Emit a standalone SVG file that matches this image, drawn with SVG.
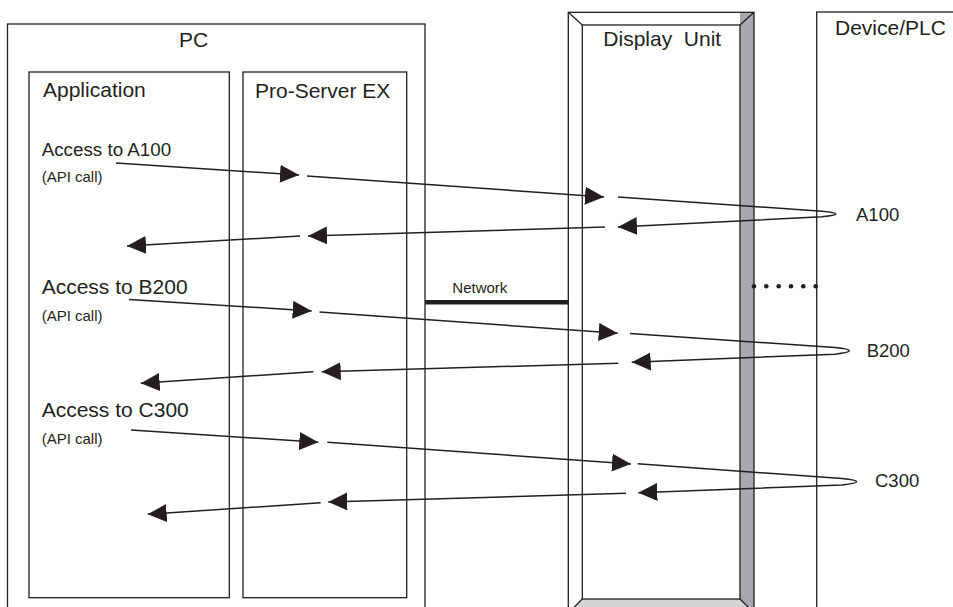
<svg xmlns="http://www.w3.org/2000/svg" width="953" height="607" viewBox="0 0 953 607">
<style>
.box{fill:none;stroke:#231f20;stroke-width:1.3}
.t{font-family:"Liberation Sans",Arial,sans-serif;fill:#231f20}
.big{font-size:21px}
.mid{font-size:18.5px}
.sm{font-size:15px}
.ln{fill:none;stroke:#231f20;stroke-width:1.5;marker-end:url(#ah)}
</style>
<defs>
<marker id="ah" markerUnits="userSpaceOnUse" viewBox="0 0 19 18" refX="19" refY="9" markerWidth="19" markerHeight="18" orient="auto">
<path d="M0,0 L19,9 L0,18 Z" fill="#231f20"/>
</marker>
</defs>
<rect width="953" height="607" fill="#fff"/>

<g id="pc">
<rect class="box" x="7.5" y="24" width="417.5" height="600"/>
<text class="t big" x="179" y="46.5">PC</text>
</g>
<g id="application">
<rect class="box" x="29" y="72" width="200.3" height="525.7"/>
<text class="t big" x="43" y="96.7">Application</text>
</g>
<g id="pro-server">
<rect class="box" x="243" y="72" width="163.7" height="525.7"/>
<text class="t big" x="255" y="97.5">Pro-Server EX</text>
</g>
<g id="display-unit">
<rect x="740" y="12.3" width="14" height="610" fill="#a7a9ac"/>
<polygon points="582.3,599 740,599 754,613 568.3,613" fill="#d1d3d4"/>
<rect class="box" x="568.3" y="12.3" width="185.7" height="610"/>
<rect class="box" x="582.3" y="25" width="157.7" height="574"/>
<path class="box" d="M568.3,12.3 L582.3,25 M754,12.3 L740,25 M582.3,599 L568.3,613 M740,599 L754,613"/>
<text class="t big" x="603.3" y="45.7" xml:space="preserve">Display  Unit</text>
</g>
<g id="device-plc">
<rect class="box" x="816.7" y="12" width="200" height="620"/>
<text class="t big" x="835" y="35">Device/PLC</text>
</g>
<g id="network">
<line x1="425" y1="302.3" x2="569" y2="302.3" stroke="#231f20" stroke-width="4.5"/>
<text class="t sm" x="452.3" y="293.3">Network</text>
</g>
<g id="plc-dots" fill="#231f20">
<circle cx="754" cy="286.3" r="2.3"/>
<circle cx="766.3" cy="286.3" r="2.3"/>
<circle cx="778.7" cy="286.3" r="2.3"/>
<circle cx="791" cy="286.3" r="2.3"/>
<circle cx="803.3" cy="286.3" r="2.3"/>
<circle cx="815.7" cy="286.3" r="2.3"/>
</g>
<g id="labels">
<text class="t" style="font-size:18.8px" x="41.7" y="155.7">Access to A100</text>
<text class="t sm" x="41.7" y="182">(API call)</text>
<text class="t big" x="41.7" y="294.3">Access to B200</text>
<text class="t sm" x="41.7" y="320.7">(API call)</text>
<text class="t big" x="41.7" y="417.3">Access to C300</text>
<text class="t sm" x="41.7" y="444">(API call)</text>
<text class="t mid" x="856" y="220.7">A100</text>
<text class="t mid" x="866.7" y="357.3">B200</text>
<text class="t mid" x="875" y="487.3">C300</text>
</g>
<g id="connectors">
<path class="ln" d="M116,163 L299,175"/>
<path class="ln" d="M307,176 L604,197"/>
<path class="ln" d="M618,197 L822,211.3 Q850,214 822,216.7 L618,227"/>
<path class="ln" d="M605,227 L308,236"/>
<path class="ln" d="M300,236 L127,246"/>

<path class="ln" d="M129,299.5 L311.7,311"/>
<path class="ln" d="M319.5,312 L617.7,333.3"/>
<path class="ln" d="M630,333.5 L835,347.6 Q863.6,350.7 835,354.2 L631.7,362.3"/>
<path class="ln" d="M618.3,363.3 L321.7,371.7"/>
<path class="ln" d="M313.3,371.7 L140.7,383.3"/>

<path class="ln" d="M131,430 L318.3,442.3"/>
<path class="ln" d="M327.3,442.3 L631,464"/>
<path class="ln" d="M637.7,463.7 L842,478.6 Q871.4,481.7 842,484.9 L638.3,492.7"/>
<path class="ln" d="M626,493.3 L328.3,502"/>
<path class="ln" d="M320.7,502.7 L147.7,514.3"/>
</g>
</svg>
